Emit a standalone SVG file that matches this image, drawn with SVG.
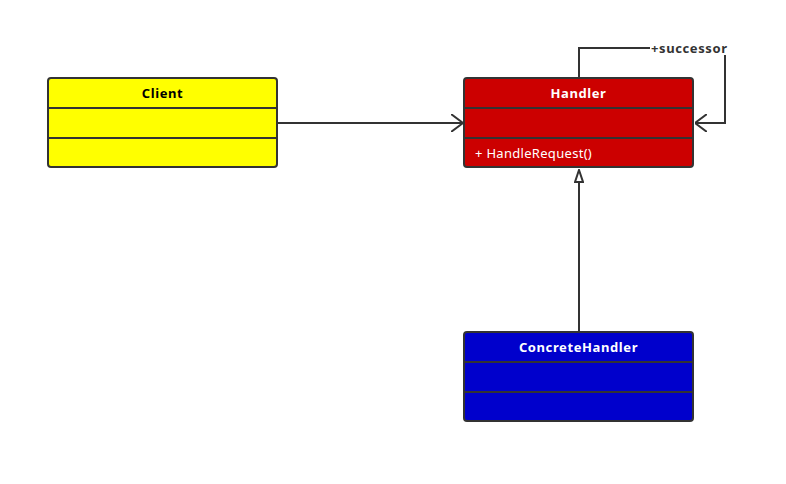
<svg xmlns="http://www.w3.org/2000/svg" width="786" height="484" viewBox="0 0 786 484">
<style>
.box{stroke:#333;stroke-width:2}
.div{stroke:#333;stroke-width:2}
.t{font-family:"Noto Sans","DejaVu Sans",sans-serif;font-size:13px;font-weight:bold;text-anchor:middle;letter-spacing:0.6px}
.s{font-family:"Noto Sans","DejaVu Sans",sans-serif;font-size:13px;font-weight:bold;letter-spacing:0.6px;fill:#333}
.m{font-family:"Noto Sans","DejaVu Sans",sans-serif;font-size:13px;fill:#fff;letter-spacing:0.3px}
.c{fill:none;stroke:#333;stroke-width:2}
</style>
<defs>
<marker id="open" viewBox="0 0 12 18" refX="12" refY="9" markerWidth="12" markerHeight="18" markerUnits="userSpaceOnUse" orient="auto">
<path d="M0,0 L12,9 L0,18" fill="none" stroke="#333" stroke-width="2"/>
</marker>
<marker id="tri" viewBox="0 0 14 10" refX="13" refY="5" markerWidth="14" markerHeight="10" markerUnits="userSpaceOnUse" orient="auto">
<path d="M1,1 L13,5 L1,9 Z" fill="#fff" stroke="#333" stroke-width="2"/>
</marker>
</defs>
<rect width="786" height="484" fill="#fff"/>
<g id="connectors">
<path class="c" d="M278,123 L463,123" marker-end="url(#open)"/>
<path class="c" d="M579,78 L579,48 L725,48 L725,123 L695,123" marker-end="url(#open)"/>
<path class="c" d="M579,331 L579,170" marker-end="url(#tri)"/>
<rect x="650" y="40" width="80" height="15" fill="#fff"/>
<text x="651" y="53" class="s">+successor</text>
</g>
<g id="client">
<rect class="box" x="48" y="78" width="229" height="89" rx="3" fill="#ffff00"/>
<line class="div" x1="48" y1="108" x2="277" y2="108"/>
<line class="div" x1="48" y1="138" x2="277" y2="138"/>
<text x="162.5" y="98" class="t" fill="#000">Client</text>
</g>
<g id="handler">
<rect class="box" x="464" y="78" width="229" height="89" rx="3" fill="#cc0000"/>
<line class="div" x1="464" y1="108" x2="693" y2="108"/>
<line class="div" x1="464" y1="138" x2="693" y2="138"/>
<text x="578.5" y="98" class="t" fill="#fff">Handler</text>
<text x="475" y="158" class="m">+ HandleRequest()</text>
</g>
<g id="concretehandler">
<rect class="box" x="464" y="332" width="229" height="89" rx="3" fill="#0000cc"/>
<line class="div" x1="464" y1="362" x2="693" y2="362"/>
<line class="div" x1="464" y1="392" x2="693" y2="392"/>
<text x="578.5" y="352" class="t" fill="#fff">ConcreteHandler</text>
</g>
</svg>
